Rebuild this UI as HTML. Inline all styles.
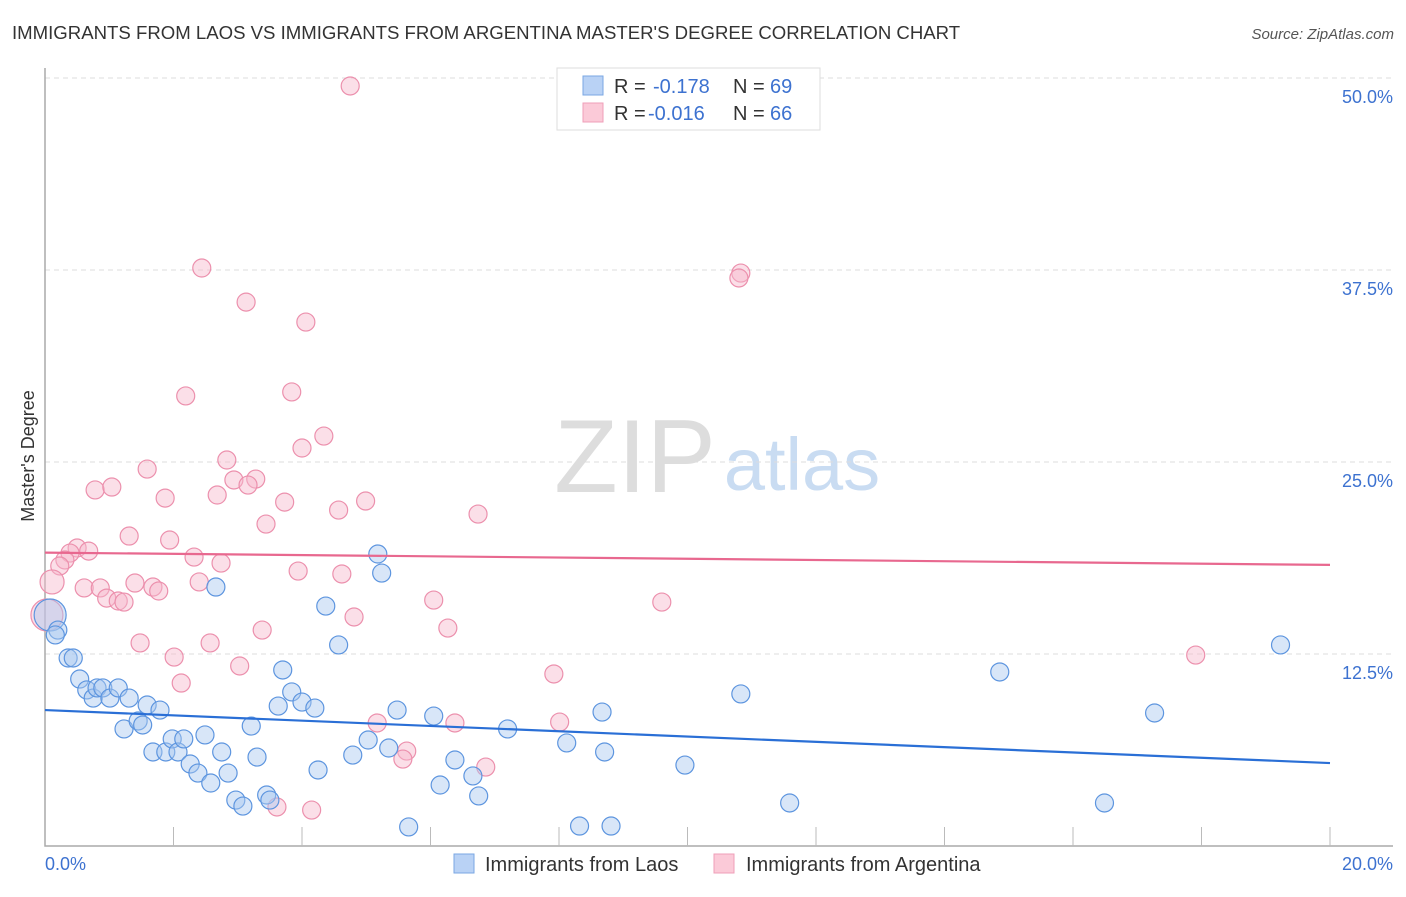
<!DOCTYPE html>
<html><head><meta charset="utf-8"><style>
body{margin:0;background:#fff;font-family:"Liberation Sans",sans-serif;}
svg text{font-family:"Liberation Sans",sans-serif;}
</style></head><body>
<svg id="chart" width="1406" height="892" xmlns="http://www.w3.org/2000/svg">
<text x="12" y="39" font-size="18.6" fill="#333">IMMIGRANTS FROM LAOS VS IMMIGRANTS FROM ARGENTINA MASTER'S DEGREE CORRELATION CHART</text>
<text x="1394" y="39" font-size="15" fill="#555" text-anchor="end" font-style="italic">Source: ZipAtlas.com</text>
<text transform="translate(34,456) rotate(-90)" font-size="18" fill="#333" text-anchor="middle">Master's Degree</text>
<g><text x="635" y="492" font-size="104" fill="#ddd" text-anchor="middle" font-family="Liberation Serif">ZIP</text><text x="802" y="490" font-size="74" fill="#c9dcf2" text-anchor="middle">atlas</text></g>
<g id="grid"></g><g id="axes"></g><g id="pts"></g><g id="trend"></g>
<g>
<rect x="557" y="68" width="263" height="62" fill="#fff" stroke="#ddd"/>
<rect x="583" y="76" width="20" height="19" fill="#b9d2f5" stroke="#7aa7e3"/>
<rect x="583" y="103" width="20" height="19" fill="#fbcad8" stroke="#ef9fb8"/>
<text x="614" y="93" font-size="20" fill="#333">R = </text><text x="653" y="93" font-size="20" fill="#3d72d0">-0.178</text>
<text x="733" y="93" font-size="20" fill="#333">N = </text><text x="770" y="93" font-size="20" fill="#3d72d0">69</text>
<text x="614" y="120" font-size="20" fill="#333">R = </text><text x="648" y="120" font-size="20" fill="#3d72d0">-0.016</text>
<text x="733" y="120" font-size="20" fill="#333">N = </text><text x="770" y="120" font-size="20" fill="#3d72d0">66</text>
</g>
<g>
<rect x="454" y="854" width="20" height="19" fill="#b9d2f5" stroke="#7aa7e3"/>
<text x="485" y="871" font-size="20" fill="#333">Immigrants from Laos</text>
<rect x="714" y="854" width="20" height="19" fill="#fbcad8" stroke="#ef9fb8"/>
<text x="746" y="871" font-size="20" fill="#333">Immigrants from Argentina</text>
</g>
</svg>
<script>
const yTicks=[12.5,25,37.5,50];
const yTickLabels=["12.5%","25.0%","37.5%","50.0%"];
const xTickLabels=["0.0%","20.0%"];
const laosX=[0.08,0.2,0.16,0.36,0.44,0.54,0.65,0.75,0.81,0.9,1.01,1.14,1.23,1.31,1.45,1.52,1.59,1.68,1.79,1.88,1.98,2.07,2.16,2.26,2.38,2.49,2.58,2.66,2.75,2.85,2.97,3.08,3.21,3.3,3.45,3.5,3.63,3.7,3.84,4.0,4.2,4.25,4.37,4.57,4.79,5.03,5.18,5.24,5.35,5.48,5.66,6.05,6.15,6.38,6.66,6.75,7.2,8.12,8.32,8.67,8.71,8.81,9.96,10.83,11.59,14.86,16.49,17.27,19.23];
const laosY=[15.04,14.06,13.74,12.24,12.24,10.87,10.16,9.63,10.29,10.29,9.63,10.29,7.62,9.63,8.14,7.88,9.18,6.12,8.85,6.12,6.97,6.12,6.97,5.34,4.75,7.23,4.1,16.86,6.12,4.75,2.99,2.6,7.81,5.79,3.32,2.99,9.11,11.46,10.03,9.37,8.98,4.95,15.62,13.09,5.92,6.9,19.01,17.77,6.38,8.85,1.24,8.46,3.97,5.6,4.56,3.26,7.62,6.71,1.3,8.72,6.12,1.3,5.27,9.9,2.8,11.33,2.8,8.66,13.09];
const argX=[4.75,2.44,3.13,4.06,10.83,10.8,2.19,3.84,4.34,4.0,2.83,1.59,3.28,2.94,3.16,0.78,1.04,1.87,2.68,3.73,4.99,4.57,6.74,3.44,1.31,1.94,0.5,0.68,0.39,0.31,0.23,0.11,2.32,2.74,3.94,4.62,0.61,0.86,1.4,1.68,1.77,2.4,0.96,1.14,1.23,6.05,9.6,4.81,3.38,6.27,1.48,2.57,2.01,2.12,3.03,7.92,17.91,0.03,5.17,6.38,8.01,5.63,5.57,6.86,3.61,4.15];
const argY=[49.48,37.63,35.41,34.11,37.3,36.98,29.3,29.56,26.69,25.91,25.13,24.54,23.89,23.83,23.5,23.18,23.37,22.65,22.85,22.39,22.46,21.87,21.61,20.96,20.18,19.92,19.4,19.2,19.07,18.62,18.23,17.19,18.81,18.42,17.9,17.71,16.8,16.8,17.12,16.86,16.6,17.19,16.14,15.95,15.88,16.01,15.88,14.91,14.06,14.19,13.22,13.22,12.3,10.61,11.72,11.2,12.43,15.04,8.01,8.01,8.07,6.18,5.66,5.14,2.54,2.34];
const laosTrend=[8.85,5.4];
const argTrend=[19.1,18.3];
const NS="http://www.w3.org/2000/svg";
const X=v=>45+v/20*1285, Y=v=>846-v/12.5*192;
function mk(t,a,p){const e=document.createElementNS(NS,t);for(const k in a)e.setAttribute(k,a[k]);document.getElementById(p).appendChild(e);return e;}
yTicks.forEach((t,i)=>{
 const g=mk('line',{x1:45,x2:1393,y1:Y(t),y2:Y(t),stroke:'#ddd','stroke-dasharray':'5,4'},'grid');
 
 
 const l=mk('text',{x:1393,y:Y(t)+25,'font-size':18,fill:'#3d72d0','text-anchor':'end'},'axes');
 l.textContent=yTickLabels[i];
 
 
});
const ax=mk('path',{d:'M45 68V846H1393',fill:'none',stroke:'#aaa','stroke-width':1.5},'axes');


for(let i=1;i<=10;i++){const t=mk('line',{x1:X(i*2),x2:X(i*2),y1:827,y2:846,stroke:'#bbb'},'axes');
 
 }
[[0,'start',45],[1,'end',1393]].forEach(([i,a,x])=>{const l=mk('text',{x:x,y:870,'font-size':18,fill:'#3d72d0','text-anchor':a},'axes');l.textContent=xTickLabels[i];
 
 });
function pts(xs,ys,fill,stroke,name,big){xs.forEach((x,i)=>{const r=big[i]||9;
 const c=mk('circle',{cx:X(x),cy:Y(ys[i]),r:r,fill:fill,'fill-opacity':0.45,stroke:stroke,'stroke-width':1.2},'pts');
 
 });}
pts(argX,argY,'#f7b9cc','#ec90ad','point-argentina',{31:12,57:16});
pts(laosX,laosY,'#a9c8f0','#5d95df','point-laos',{0:16});
const t1=mk('line',{x1:X(0),x2:X(20),y1:Y(argTrend[0]),y2:Y(argTrend[1]),stroke:'#e8688f','stroke-width':2.2},'trend');


const t2=mk('line',{x1:X(0),x2:X(20),y1:Y(laosTrend[0]),y2:Y(laosTrend[1]),stroke:'#2a6fd6','stroke-width':2.2},'trend');


</script>
</body></html>
